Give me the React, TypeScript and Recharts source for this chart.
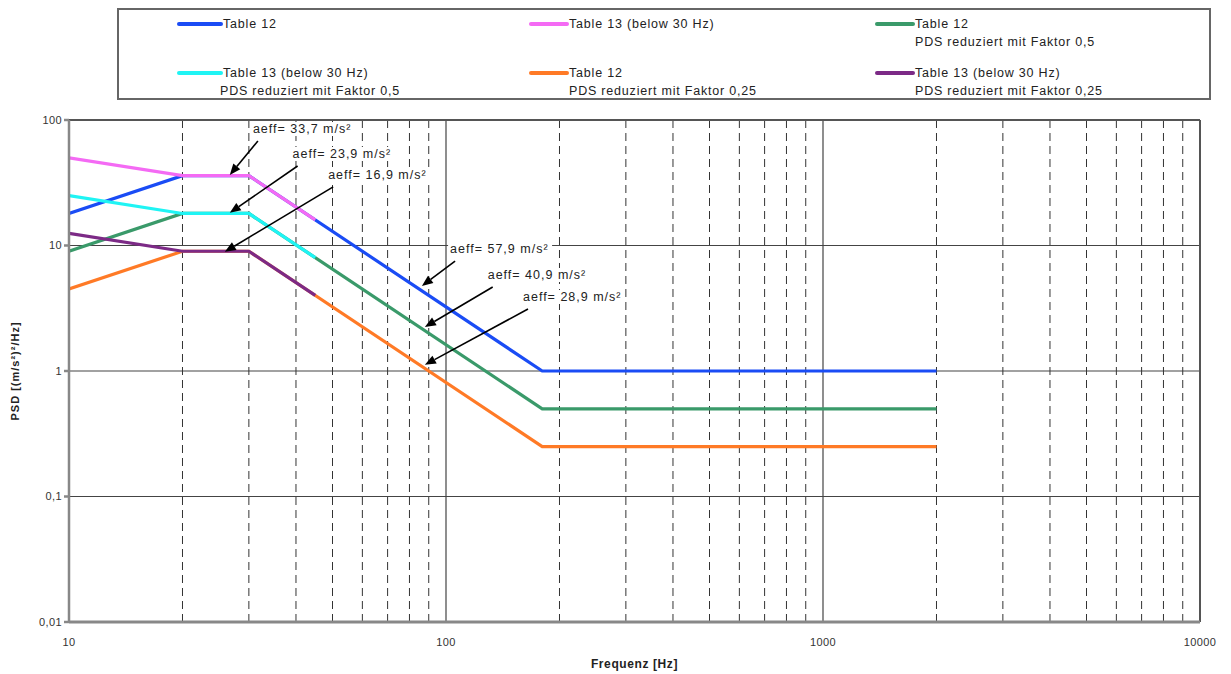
import React from 'react';
import { LineChart, Line, XAxis, YAxis, CartesianGrid, ReferenceLine, Legend } from 'recharts';

if (typeof document !== 'undefined') document.body.style.margin = '0';

const FONT = '"Liberation Sans", Arial, sans-serif';

// PSD curves: frequency [Hz] and PSD [(m/s²)²/Hz]
const table12 = [
  { f: 10, v: 18 }, { f: 20, v: 36 }, { f: 30, v: 36 }, { f: 180, v: 1 }, { f: 2000, v: 1 },
];
const table13 = [
  { f: 10, v: 50 }, { f: 20, v: 36 }, { f: 30, v: 36 }, { f: 45, v: 16 },
];
const table12Half = [
  { f: 10, v: 9 }, { f: 20, v: 18 }, { f: 30, v: 18 }, { f: 180, v: 0.5 }, { f: 2000, v: 0.5 },
];
const table13Half = [
  { f: 10, v: 25 }, { f: 20, v: 18 }, { f: 30, v: 18 }, { f: 45, v: 8 },
];
const table12Quarter = [
  { f: 10, v: 4.5 }, { f: 20, v: 9 }, { f: 30, v: 9 }, { f: 180, v: 0.25 }, { f: 2000, v: 0.25 },
];
const table13Quarter = [
  { f: 10, v: 12.5 }, { f: 20, v: 9 }, { f: 30, v: 9 }, { f: 45, v: 4 },
];

const series = [
  { key: 't12', data: table12, color: '#1a4cf5', label: 'Table 12', sub: '' },
  { key: 't13', data: table13, color: '#f46af4', label: 'Table 13 (below 30 Hz)', sub: '' },
  { key: 't12h', data: table12Half, color: '#3a9a6a', label: 'Table 12', sub: 'PDS reduziert mit Faktor 0,5' },
  { key: 't13h', data: table13Half, color: '#1ff4f4', label: 'Table 13 (below 30 Hz)', sub: 'PDS reduziert mit Faktor 0,5' },
  { key: 't12q', data: table12Quarter, color: '#ff7a26', label: 'Table 12', sub: 'PDS reduziert mit Faktor 0,25' },
  { key: 't13q', data: table13Quarter, color: '#7c2a86', label: 'Table 13 (below 30 Hz)', sub: 'PDS reduziert mit Faktor 0,25' },
];

const xTicks = [10, 100, 1000, 10000];
const yTicks = [0.01, 0.1, 1, 10, 100];
const minorFreqs = [20, 30, 40, 50, 60, 70, 80, 90, 200, 300, 400, 500, 600, 700, 800, 900,
  2000, 3000, 4000, 5000, 6000, 7000, 8000, 9000];

// aeff annotations: arrow from label point to curve point
const annotations = [
  { text: 'aeff= 33,7 m/s²', from: { x: 31.7, y: 68 }, to: { x: 26.7, y: 36.5 } },
  { text: 'aeff= 23,9 m/s²', from: { x: 40.4, y: 43 }, to: { x: 26.7, y: 18.2 } },
  { text: 'aeff= 16,9 m/s²', from: { x: 50.2, y: 29.3 }, to: { x: 25.9, y: 8.9 } },
  { text: 'aeff= 57,9 m/s²', from: { x: 105.7, y: 7.5 }, to: { x: 86.3, y: 4.76 } },
  { text: 'aeff= 40,9 m/s²', from: { x: 133, y: 4.67 }, to: { x: 87.9, y: 2.24 } },
  { text: 'aeff= 28,9 m/s²', from: { x: 165, y: 3.12 }, to: { x: 87.9, y: 1.12 } },
];

const fmtY = (v: number) => String(v).replace('.', ',');

function arrowShape(text: string) {
  return (props: any) => {
    const { x1, y1, x2, y2 } = props;
    if ([x1, y1, x2, y2].some((n) => typeof n !== 'number' || isNaN(n))) return <g />;
    const ang = Math.atan2(y2 - y1, x2 - x1);
    const len = 11;
    const w = 4.5;
    const bx = x2 - len * Math.cos(ang);
    const by = y2 - len * Math.sin(ang);
    const px = -Math.sin(ang) * w;
    const py = Math.cos(ang) * w;
    const tx = x1 - 5;
    const ty = y1 - 8;
    return (
      <g>
        <rect x={tx - 2} y={ty - 11} width={104} height={14} fill="#fff" />
        <line x1={x1} y1={y1} x2={bx} y2={by} stroke="#000" strokeWidth={1.6} />
        <polygon points={`${x2},${y2} ${bx + px},${by + py} ${bx - px},${by - py}`} fill="#000" />
        <text x={tx} y={ty} fontSize={12.5} letterSpacing={1} fontFamily={FONT} fill="#222">{text}</text>
      </g>
    );
  };
}

function LegendBox() {
  const colX = [175, 527, 873];
  return (
    <div style={{
      width: 1094, height: 92, border: '2px solid #666', boxSizing: 'border-box',
      position: 'relative', fontFamily: FONT, fontSize: 12.5, letterSpacing: 0.8, color: '#222', background: '#fff',
    }}>
      {series.map((s, i) => {
        const col = i % 3;
        const row = Math.floor(i / 3);
        const left = colX[col] - 117;
        const top = row === 0 ? 5 : 54;
        return (
          <div key={s.key} style={{ position: 'absolute', left, top, lineHeight: '18px', whiteSpace: 'nowrap' }}>
            <div style={{ display: 'flex', alignItems: 'center' }}>
              <span style={{ display: 'inline-block', width: col === 0 ? 46 : 40, height: 4, borderRadius: 2, background: s.color }} />
              <span>{s.label}</span>
            </div>
            {s.sub && <div style={{ paddingLeft: col === 0 ? 43 : 40 }}>{s.sub}</div>}
          </div>
        );
      })}
    </div>
  );
}

export default function App() {
  return (
    <LineChart width={1231} height={674} margin={{ top: 120, right: 31, bottom: 0, left: 0 }}>
      <CartesianGrid stroke="#444" strokeWidth={1.2} />
      {minorFreqs.map((f) => (
        <ReferenceLine key={f} x={f} stroke="#333" strokeDasharray="8 5" strokeWidth={1} />
      ))}
      <XAxis
        dataKey="f"
        type="number"
        scale="log"
        domain={[10, 10000]}
        ticks={xTicks}
        allowDataOverflow
        height={52}
        stroke="#888"
        strokeWidth={3}
        tickLine={false}
        tick={{ fontSize: 11, fill: '#333', fontFamily: FONT, dy: 8, letterSpacing: 0.4 }}
        label={{ value: 'Frequenz [Hz]', position: 'insideBottom', offset: 6, fontSize: 12, letterSpacing: 0.6, fontWeight: 'bold', fill: '#222', fontFamily: FONT }}
      />
      <YAxis
        dataKey="v"
        type="number"
        scale="log"
        domain={[0.01, 100]}
        ticks={yTicks}
        allowDataOverflow
        width={69}
        stroke="#888"
        strokeWidth={2.5}
        tickSize={5}
        tickFormatter={fmtY}
        tick={{ fontSize: 11, fill: '#333', fontFamily: FONT, letterSpacing: 0.4 }}
        label={{ value: 'PSD [(m/s²)²/Hz]', angle: -90, position: 'insideLeft', offset: 15, fontSize: 11, letterSpacing: 1, fontWeight: 'bold', fill: '#222', fontFamily: FONT, style: { textAnchor: 'middle' } }}
      />
      <ReferenceLine y={100} stroke="#555" strokeWidth={2} />
      <ReferenceLine x={10000} stroke="#555" strokeWidth={2} />
      {series.map((s) => (
        <Line
          key={s.key}
          data={s.data}
          dataKey="v"
          name={s.label}
          stroke={s.color}
          strokeWidth={3.2}
          dot={false}
          activeDot={false}
          isAnimationActive={false}
        />
      ))}
      {annotations.map((a) => (
        <ReferenceLine
          key={a.text}
          segment={[a.from, a.to]}
          ifOverflow="visible"
          shape={arrowShape(a.text)}
        />
      ))}
      <Legend
        layout="horizontal"
        verticalAlign="middle"
        align="center"
        wrapperStyle={{ top: 8, left: 117, width: 1096 }}
        content={() => <LegendBox />}
      />
    </LineChart>
  );
}
